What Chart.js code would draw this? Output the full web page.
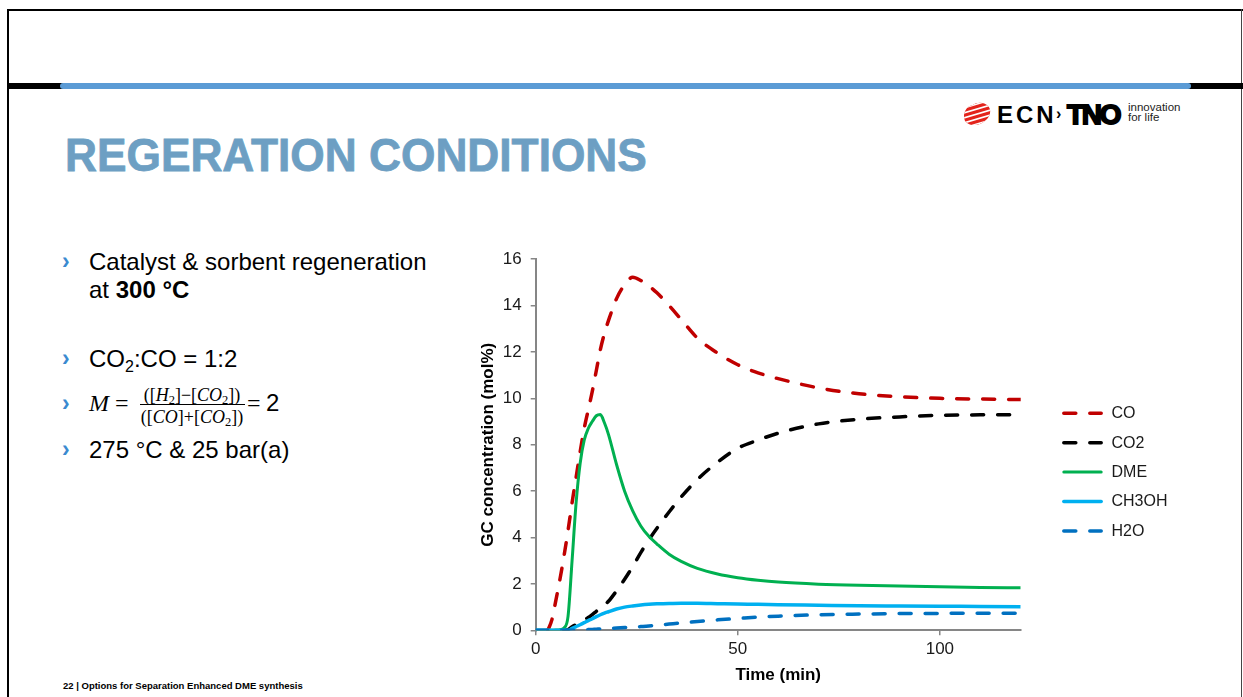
<!DOCTYPE html>
<html>
<head>
<meta charset="utf-8">
<title>Regeration conditions</title>
<script src="https://cdn.jsdelivr.net/npm/chart.js@4.4.1/dist/chart.umd.min.js"></script>
<style>
  html, body { margin: 0; padding: 0; }
  body { width: 1243px; height: 697px; position: relative; overflow: hidden; background: #fff;
         font-family: "Liberation Sans", Arial, sans-serif; color: #000; }
  .abs { position: absolute; white-space: nowrap; }
  .line24 { font-size: 24px; line-height: 1; }
  .chev { position: absolute; font: bold 23px "Liberation Sans", Arial, sans-serif; color: #3a8ad0; line-height: 1; }
  .math { font-family: "Liberation Serif", "DejaVu Serif", serif; }
  .frac { position: absolute; width: 106px; text-align: center; font-size: 18px; line-height: 1; }
  .frac sub { font-size: 12.5px; vertical-align: -3px; line-height: 0; }
  #chartBox { position: absolute; left: 470px; top: 240px; width: 773px; height: 457px; }
</style>
</head>
<body>

<!-- slide frame -->
<div class="abs" style="left:7px;top:9px;width:1236px;height:2px;background:#000"></div>
<div class="abs" style="left:7px;top:9px;width:2px;height:688px;background:#000"></div>
<div class="abs" style="left:1241px;top:9px;width:1px;height:688px;background:#444"></div>
<div class="abs" style="left:7px;top:83px;width:1236px;height:6px;background:#000"></div>
<div class="abs" style="left:60px;top:83px;width:1131px;height:6px;background:#5b9bd5;border-radius:3px"></div>

<!-- logo -->
<svg class="abs" style="left:962px;top:101px" width="30" height="28" viewBox="0 0 30 28">
  <defs>
    <clipPath id="blob">
      <path d="M3 20 C0 13 4 5 11 4 C15 1 22 1 26 5 C30 9 28 16 24 19 C19 24 9 27 3 20 Z"/>
    </clipPath>
  </defs>
  <g clip-path="url(#blob)">
    <rect x="0" y="0" width="30" height="28" fill="#e3231b"/>
    <g stroke="#fff" stroke-width="1.6">
      <line x1="-5" y1="9" x2="35" y2="-3"/>
      <line x1="-5" y1="14" x2="35" y2="2"/>
      <line x1="-5" y1="19" x2="35" y2="7"/>
      <line x1="-5" y1="24" x2="35" y2="12"/>
      <line x1="-5" y1="29" x2="35" y2="17"/>
      <line x1="-5" y1="34" x2="35" y2="22"/>
    </g>
  </g>
</svg>
<div class="abs" style="left:997px;top:103px;font:bold 24px 'Liberation Sans',Arial,sans-serif;letter-spacing:3px;line-height:1">ECN</div>
<div class="abs" style="left:1056px;top:106px;font:bold 16px 'Liberation Sans',Arial,sans-serif;line-height:1">›</div>
<div class="abs" style="left:1067px;top:101px;font:bold 28px 'Liberation Sans',Arial,sans-serif;letter-spacing:-2.3px;-webkit-text-stroke:1.8px #000;line-height:1">TNO</div>
<div class="abs" style="left:1128px;top:103px;font:11.5px 'Liberation Sans',Arial,sans-serif;line-height:9.5px;color:#222">innovation<br>for life</div>

<!-- title -->
<div id="title" class="abs" style="left:65px;top:132px;font:bold 46px 'Liberation Sans',Arial,sans-serif;line-height:1;color:#6d9fc3;-webkit-text-stroke:0.8px #6d9fc3;transform-origin:left top">REGERATION CONDITIONS</div>

<!-- bullet text -->
<div class="chev" style="left:62px;top:250px">›</div>
<div class="abs line24" style="left:89px;top:249.5px">Catalyst &amp; sorbent regeneration</div>
<div class="abs line24" style="left:89px;top:277.5px">at <b>300 °C</b></div>

<div class="chev" style="left:62px;top:347px">›</div>
<div class="abs line24" style="left:89px;top:346.5px">CO<sub style="font-size:16px;vertical-align:-5px;line-height:0">2</sub>:CO = 1:2</div>

<div class="chev" style="left:62px;top:392px">›</div>
<div class="abs math" style="left:89px;top:391px;font-size:24px;line-height:1;font-style:italic">M</div>
<div class="abs math" style="left:115px;top:391px;font-size:24px;line-height:1">=</div>
<div class="frac math" style="left:139px;top:385.5px">([<i>H</i><sub>2</sub>]−[<i>CO</i><sub>2</sub>])</div>
<div class="abs" style="left:140px;top:404px;width:105px;height:1px;background:#000"></div>
<div class="frac math" style="left:139px;top:407.5px">([<i>CO</i>]+[<i>CO</i><sub>2</sub>])</div>
<div class="abs math" style="left:247px;top:391px;font-size:24px;line-height:1">=</div>
<div class="abs line24" style="left:266px;top:390.7px">2</div>

<div class="chev" style="left:62px;top:438px">›</div>
<div class="abs line24" style="left:89px;top:437.5px">275 °C &amp; 25 bar(a)</div>

<!-- footer -->
<div class="abs" style="left:63px;top:681px;font:bold 9.5px 'Liberation Sans',Arial,sans-serif;line-height:1">22 | Options for Separation Enhanced DME synthesis</div>

<div id="chartBox"><canvas id="gc" width="773" height="457"></canvas></div>

<script>
// Time axis (min) shared by all series
const times = [0, 2, 3, 4, 5, 6, 7, 8, 9, 10, 11, 12, 13, 14, 15, 16, 17, 18, 20, 22, 24, 26, 28, 30,
               33, 36, 40, 45, 50, 55, 60, 70, 80, 90, 100, 110, 120];

// GC concentrations (mol%)
const coValues = [null, null, 0, 0.45, 1.3, 2.2, 3.2, 4.3, 5.5, 6.6, 7.7, 8.7, 9.5, 10.3, 11.2, 12.1,
                  12.8, 13.35, 14.3, 14.9, 15.22, 15.08, 14.85, 14.55, 14.0, 13.4, 12.6, 11.95, 11.45,
                  11.1, 10.85, 10.45, 10.2, 10.07, 10.0, 9.97, 9.95];
const co2Values = [null, null, null, null, null, null, 0, 0.03, 0.15, 0.25, 0.35, 0.45, 0.55, 0.68, 0.82,
                   0.95, 1.1, 1.25, 1.7, 2.2, 2.75, 3.35, 3.9, 4.4, 5.1, 5.75, 6.5, 7.25, 7.85, 8.2, 8.5,
                   8.9, 9.1, 9.2, 9.27, 9.29, 9.3];
const dmeValues = [0, 0, 0, 0, 0.01, 0.03, 0.1, 0.6, 3.0, 5.5, 7.2, 8.2, 8.7, 9.0, 9.25, 9.3, 8.95, 8.45,
                   7.15, 6.0, 5.15, 4.5, 4.05, 3.72, 3.28, 2.97, 2.67, 2.43, 2.27, 2.16, 2.08, 1.99, 1.94,
                   1.91, 1.88, 1.85, 1.83];
const ch3ohValues = [0, 0, 0, 0, 0, 0, 0, 0, 0.08, 0.16, 0.24, 0.33, 0.42, 0.5, 0.59, 0.67, 0.74, 0.8,
                     0.92, 1.0, 1.05, 1.09, 1.12, 1.14, 1.16, 1.17, 1.17, 1.15, 1.13, 1.12, 1.1, 1.08,
                     1.06, 1.05, 1.04, 1.03, 1.02];
const h2oValues = [0, 0, 0, 0, 0, 0, 0, 0, 0, 0, 0.01, 0.02, 0.03, 0.04, 0.05, 0.06, 0.07, 0.08, 0.1,
                   0.12, 0.14, 0.16, 0.19, 0.22, 0.27, 0.32, 0.38, 0.45, 0.51, 0.57, 0.61, 0.67, 0.7,
                   0.72, 0.73, 0.74, 0.74];

const seriesLabels = ['CO', 'CO2', 'DME', 'CH3OH', 'H2O'];
const seriesValues = [coValues, co2Values, dmeValues, ch3ohValues, h2oValues];

// Line styles per series
const dashed = [12, 14];
const seriesStyles = [
  { color: '#c00000', width: 3.5, dash: dashed },
  { color: '#000000', width: 3.5, dash: dashed },
  { color: '#00b050', width: 3, dash: [] },
  { color: '#00b0f0', width: 3.5, dash: [] },
  { color: '#0070c0', width: 3.5, dash: dashed }
];

// Fit the slide title to its box width
(function () {
  const t = document.getElementById('title');
  t.style.display = 'inline-block';
  t.style.transform = 'scaleX(' + (582 / t.offsetWidth) + ')';
})();

const FONT = "'Liberation Sans', Arial, sans-serif";

// Legend drawn beside the plot from the dataset styles
const sideLegend = {
  id: 'sideLegend',
  afterDraw(chart) {
    const ctx = chart.ctx;
    const top = 173.3, step = 29.4, x0 = 593.8, x1 = 631.2, xt = 641.5;
    chart.data.datasets.forEach((ds, i) => {
      const y = top + i * step;
      ctx.save();
      ctx.strokeStyle = ds.borderColor;
      ctx.lineWidth = ds.borderWidth;
      ctx.setLineDash(ds.borderDash || []);
      ctx.lineCap = 'round';
      ctx.beginPath();
      ctx.moveTo(x0, y);
      ctx.lineTo(x1, y);
      ctx.stroke();
      ctx.setLineDash([]);
      ctx.fillStyle = '#1a1a1a';
      ctx.font = '16px ' + FONT;
      ctx.textBaseline = 'middle';
      ctx.fillText(ds.label, xt, y + 0.5);
      ctx.restore();
    });
  }
};

const datasets = seriesLabels.map((label, i) => ({
  label: label,
  data: times.map((t, k) => ({ x: t, y: seriesValues[i][k] })),
  borderColor: seriesStyles[i].color,
  borderWidth: seriesStyles[i].width,
  borderDash: seriesStyles[i].dash,
  borderCapStyle: seriesStyles[i].dash.length ? 'round' : 'butt',
  borderJoinStyle: 'round',
  pointRadius: 0,
  pointHoverRadius: 0,
  fill: false,
  cubicInterpolationMode: 'monotone',
  spanGaps: false,
  order: seriesLabels.length - 1 - i
}));

new Chart(document.getElementById('gc'), {
  type: 'line',
  data: { datasets: datasets },
  plugins: [sideLegend],
  options: {
    responsive: false,
    animation: false,
    devicePixelRatio: 1,
    layout: { padding: { top: 17, right: 222.3, left: 0, bottom: 0 } },
    plugins: { legend: { display: false }, tooltip: { enabled: false } },
    scales: {
      x: {
        type: 'linear',
        min: 0,
        max: 120,
        afterFit(scale) { scale.height = 66.7; },
        ticks: { stepSize: 50, includeBounds: false, padding: 4, maxRotation: 0,
                 font: { family: FONT, size: 17 }, color: '#1a1a1a' },
        grid: { drawOnChartArea: false, drawTicks: true, tickLength: 5, color: '#868686', lineWidth: 1.5 },
        border: { color: '#868686', width: 2 },
        title: { display: true, text: 'Time (min)', color: '#000',
                 font: { family: FONT, size: 17, weight: 'bold' }, padding: { top: 0, bottom: 11.5 } }
      },
      y: {
        min: 0,
        max: 16,
        afterFit(scale) { scale.width = 65.7; },
        ticks: { stepSize: 2, padding: 9, font: { family: FONT, size: 17 }, color: '#1a1a1a' },
        grid: { drawOnChartArea: false, drawTicks: true, tickLength: 5, color: '#868686', lineWidth: 1.5 },
        border: { color: '#868686', width: 2 },
        title: { display: true, text: 'GC concentration (mol%)', color: '#000',
                 font: { family: FONT, size: 17, weight: 'bold' }, padding: { top: 8, bottom: 0 } }
      }
    }
  }
});
</script>
</body>
</html>
